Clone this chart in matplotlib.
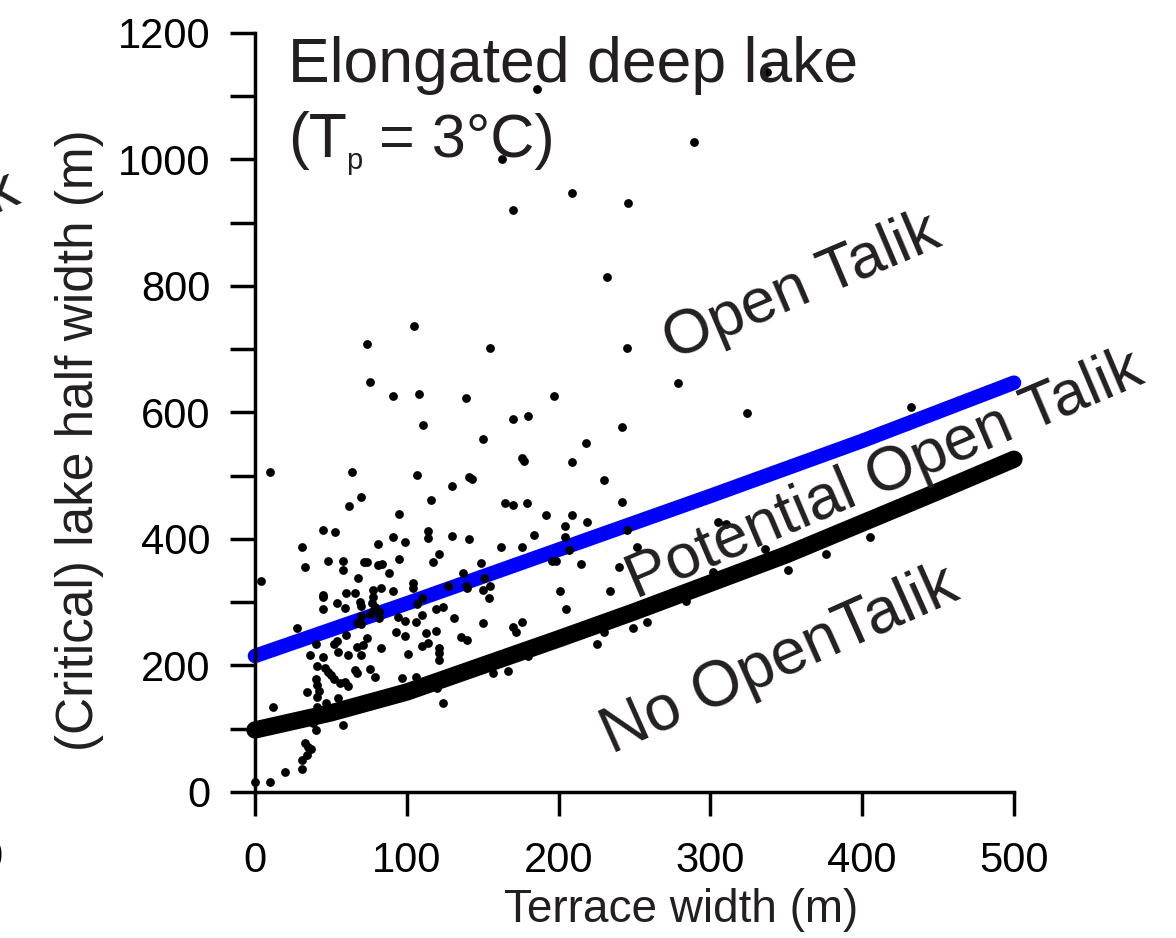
import numpy as np
import matplotlib.pyplot as plt

plt.rcParams['font.family'] = ['Liberation Sans', 'DejaVu Sans']

# observed lakes: terrace width (m) vs lake half width (m)
terrace_w = [186, 337, 163, 289, 170, 209, 246, 232, 155, 245,
             279, 197, 324, 170, 180, 242, 150, 218, 176, 177,
             209, 230, 165, 170, 179, 242, 192, 209, 219, 204,
             184, 204, 149, 162, 176, 245, 207, 196, 198, 215,
             252, 240, 305, 310, 151, 150, 155, 154, 201, 234,
             205, 150, 170, 172, 176, 225, 230, 249, 258, 284,
             302, 157, 167, 180, 336, 432, 376, 351, 405, 105,
             74, 76, 91, 108, 139, 111, 10, 64, 107, 141,
             143, 130, 70, 116, 62, 95, 45, 53, 114, 114,
             130, 141, 91, 99, 81, 31, 121, 117, 95, 33,
             48, 58, 58, 72, 74, 81, 84, 88, 68, 4,
             104, 104, 127, 139, 140, 137, 83, 91, 78, 78,
             77, 79, 45, 45, 60, 66, 69, 70, 54, 45,
             59, 78, 76, 82, 82, 70, 67, 70, 110, 107,
             124, 119, 110, 131, 99, 106, 93, 99, 113, 119,
             114, 110, 121, 121, 121, 136, 140, 83, 101, 97,
             106, 120, 124, 28, 40, 36, 45, 41, 52, 54,
             60, 55, 61, 70, 74, 67, 71, 46, 48, 50,
             52, 56, 59, 61, 66, 67, 40, 41, 42, 41,
             34, 55, 47, 41, 39, 36, 44, 40, 58, 12,
             33, 35, 37, 31, 31, 20, 10, 0, 34, 79,
             76, 38, 37, 94]
lake_hw = [1111, 1138, 1001, 1028, 920, 947, 931, 814, 702, 702,
           647, 626, 599, 590, 594, 577, 558, 552, 528, 523,
           522, 493, 457, 454, 457, 458, 438, 438, 427, 420,
           406, 403, 362, 387, 387, 414, 383, 365, 365, 360,
           387, 356, 427, 424, 338, 319, 326, 307, 318, 318,
           289, 267, 261, 253, 269, 234, 253, 259, 269, 302,
           348, 188, 191, 215, 384, 609, 376, 351, 403, 737,
           708, 648, 626, 629, 623, 580, 506, 506, 501, 498,
           495, 484, 466, 462, 452, 440, 414, 411, 413, 402,
           405, 400, 403, 395, 392, 387, 376, 364, 368, 356,
           365, 365, 351, 364, 364, 359, 360, 346, 338, 334,
           330, 322, 326, 326, 322, 346, 322, 318, 319, 308,
           299, 292, 311, 308, 315, 315, 300, 294, 299, 289,
           291, 286, 281, 285, 275, 278, 267, 266, 307, 297,
           292, 289, 280, 275, 270, 269, 253, 247, 251, 255,
           236, 231, 228, 220, 209, 245, 240, 228, 218, 180,
           182, 164, 141, 259, 234, 217, 213, 199, 234, 239,
           248, 221, 217, 217, 243, 229, 232, 196, 190, 185,
           179, 172, 174, 168, 193, 188, 179, 169, 160, 150,
           158, 149, 141, 134, 125, 114, 117, 98, 106, 134,
           77, 71, 68, 51, 36, 32, 16, 16, 58, 182,
           194, 109, 122, 277]

# critical half width curves
open_x = [0, 100, 200, 300, 400, 500]
open_y = [215, 298, 383, 468, 555, 647]
no_x = [0, 50, 100, 150, 200, 250, 300, 350, 400, 450, 500]
no_y = [98, 125, 158, 200, 242, 285, 330, 375, 425, 475, 526]

txt = '#231f20'

fig = plt.figure(figsize=(11.76, 9.38), dpi=100)
ax = fig.add_axes([0.2168, 0.1557, 0.6454, 0.8092])

ax.plot(open_x, open_y, color='#0000ff', lw=10.5, solid_capstyle='round',
        clip_on=False, zorder=2)
ax.plot(no_x, no_y, color='black', lw=12.5, solid_capstyle='round',
        clip_on=False, zorder=2)
ax.scatter(terrace_w, lake_hw, s=40, color='black', linewidths=0,
           clip_on=False, zorder=3)

ax.set_xlim(0, 500)
ax.set_ylim(0, 1200)
ax.set_xticks(range(0, 501, 100))
ax.set_yticks(range(0, 1201, 200))
ax.set_yticks(range(100, 1200, 200), minor=True)
ax.tick_params(axis='y', which='both', direction='out', length=18,
               width=2.5, labelsize=30, pad=14, colors='black')
ax.tick_params(axis='x', direction='out', length=17, width=2.5,
               labelsize=30, pad=18, colors='black')
for s in ['top', 'right']:
    ax.spines[s].set_visible(False)
for s in ['left', 'bottom']:
    ax.spines[s].set_linewidth(2.5)

ax.text(0.561, -0.155, 'Terrace width (m)', transform=ax.transAxes,
        ha='center', va='center', fontsize=33, color=txt)
ax.text(-0.231, 0.464, '(Critical) lake half width (m)', transform=ax.transAxes,
        ha='center', va='center', rotation=90, fontsize=37, color=txt)

# panel title
ax.text(22, 1122, 'Elongated deep lake', fontsize=45, color=txt,
        ha='left', va='baseline')
ax.text(22, 1004, '(T', fontsize=45, color=txt, ha='left', va='baseline')
ax.text(60, 985, 'p', fontsize=21, color=txt, ha='left', va='baseline')
ax.text(82, 1004, '= 3°C)', fontsize=44, color=txt, ha='left', va='baseline')

# region labels
ax.text(360, 797, 'Open Talik', fontsize=45, color=txt, rotation=23,
        ha='center', va='center', rotation_mode='anchor')
ax.text(415, 501, 'Potential Open Talik', fontsize=45, color=txt, rotation=23,
        ha='center', va='center', rotation_mode='anchor')
ax.text(346, 207, 'No OpenTalik', fontsize=46, color=txt, rotation=24,
        ha='center', va='center', rotation_mode='anchor')

# cut-off bits of the neighbouring panel
fig.text(0.002, 0.795, 'k', fontsize=44, color=txt, rotation=23,
         ha='center', va='center')
fig.text(-0.008, 0.085, '0', fontsize=30, color='black',
         ha='center', va='center')

fig.savefig('out.png', dpi=100)
